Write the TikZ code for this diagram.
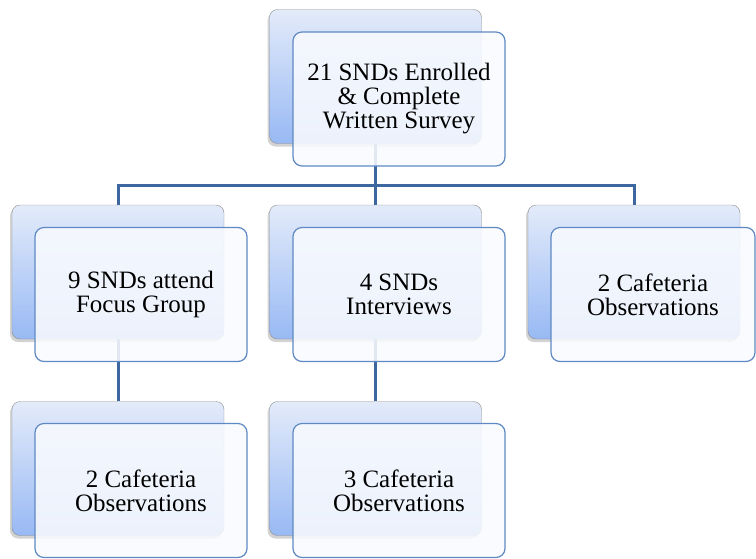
\documentclass[tikz,border=0pt]{standalone}
\usepackage{fontspec}
\setmainfont{Liberation Serif}
\newfontfamily\boitefont{Liberation Serif}
\usetikzlibrary{shadows}
\definecolor{bordfond}{HTML}{8C8C8C}
\definecolor{hautfond}{HTML}{E3EBFA}
\definecolor{basfond}{HTML}{98B9F4}
\definecolor{borddevant}{HTML}{5E89C3}
\definecolor{fonddevant}{HTML}{F8FAFE}
\definecolor{trait}{HTML}{3D689F}

\begin{document}
\begin{tikzpicture}[x=1pt, y=-1pt]
\tikzset{arriere/.style={draw=bordfond, rounded corners=8pt, top color=hautfond, bottom color=basfond, minimum width=212pt, minimum height=134pt, drop shadow={shadow xshift=-2pt, shadow yshift=-3pt, opacity=0.35}}}
\tikzset{devant/.style={draw=borddevant, line width=1.2pt, rounded corners=9pt, fill=fonddevant, fill opacity=0.88, text opacity=1, minimum width=212pt, minimum height=134pt, align=center, font=\boitefont\fontsize{25}{24}\selectfont}}
\tikzset{lien/.style={draw=trait, line width=3pt}}
\useasboundingbox (0,0) rectangle (756,558);
\coordinate (J) at (375.5,185);
\node[minimum width=212pt, minimum height=134pt] (A) at (375.5,76.5) {};
\node[minimum width=212pt, minimum height=134pt] (B1) at (118,272) {};
\node[minimum width=212pt, minimum height=134pt] (B2) at (375.5,272) {};
\node[minimum width=212pt, minimum height=134pt] (B3) at (634,272) {};
\node[minimum width=212pt, minimum height=134pt] (C1) at (118,468.5) {};
\node[minimum width=212pt, minimum height=134pt] (C2) at (375.5,468.5) {};
\draw[lien] (A.south) -- (J);
\draw[lien] (B1.north) |- (J);
\draw[lien] (B3.north) |- (J);
\draw[lien] (J) -- (B2.north);
\draw[lien] (B1.south) -- (C1.north);
\draw[lien] (B2.south) -- (C2.north);
\node[arriere] at (A) {};
\node[devant] (A') at (399,99) {21 SNDs Enrolled\\\& Complete\\Written Survey};
\node[arriere] at (B1) {};
\node[devant] (B1') at (141,294.5) {9 SNDs attend\\Focus Group};
\node[arriere] at (B2) {};
\node[devant] (B2') at (399,294.5) {4 SNDs\\Interviews};
\node[arriere] at (B3) {};
\node[devant, minimum width=204pt] (B3') at (653,294.5) {2 Cafeteria\\Observations};
\node[arriere] at (C1) {};
\node[devant] (C1') at (141,490.5) {2 Cafeteria\\Observations};
\node[arriere] at (C2) {};
\node[devant] (C2') at (399,490.5) {3 Cafeteria\\Observations};
\end{tikzpicture}
\end{document}
